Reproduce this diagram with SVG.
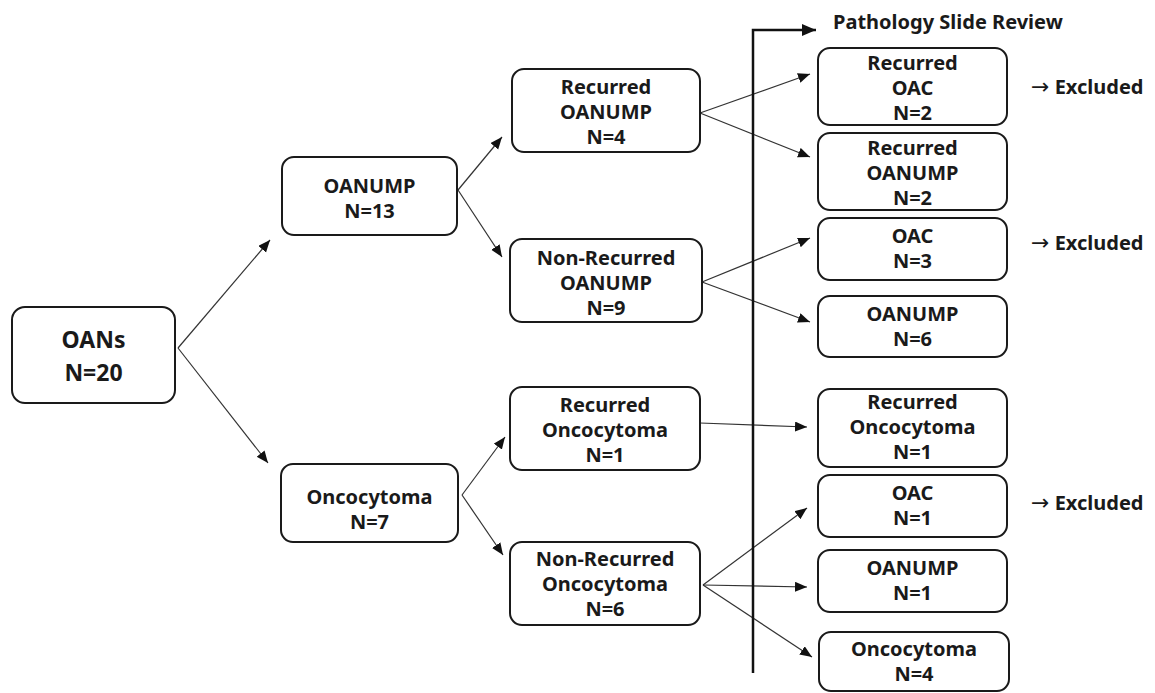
<svg xmlns="http://www.w3.org/2000/svg" width="1155" height="693" viewBox="0 0 1155 693">
<style>
.box{fill:#fff;stroke:#1a1a1a;stroke-width:2}
.t{font-family:"Noto Sans","Open Sans",sans-serif;font-weight:bold;font-size:20px;fill:#1a1a1a;text-anchor:middle}
.big{font-size:23px}
.ex{font-family:"Noto Sans","Open Sans",sans-serif;font-weight:bold;font-size:20px;fill:#1a1a1a}
.ar{font-family:"DejaVu Sans",sans-serif;font-weight:normal;font-size:22px}
.c{stroke:#333;stroke-width:1.2;fill:none;marker-end:url(#ah)}
</style>
<defs>
<marker id="ah" markerUnits="userSpaceOnUse" markerWidth="14" markerHeight="12" refX="12" refY="5" orient="auto">
<path d="M0,0 L12,5 L0,10 Z" fill="#111"/>
</marker>
<marker id="ah2" markerUnits="userSpaceOnUse" markerWidth="16" markerHeight="14" refX="14" refY="6" orient="auto">
<path d="M0,0 L14,6 L0,12 Z" fill="#111"/>
</marker>
</defs>
<rect width="1155" height="693" fill="#fff"/>
<g id="connectors">
<path class="c" d="M178,348 L270,240"/>
<path class="c" d="M178,348 L268,463"/>
<path class="c" d="M458,190 L502,137"/>
<path class="c" d="M458,190 L502,257"/>
<path class="c" d="M700,113 L810,74"/>
<path class="c" d="M700,113 L810,157"/>
<path class="c" d="M702,282 L810,238"/>
<path class="c" d="M702,282 L810,322"/>
<path class="c" d="M462,495 L505,437"/>
<path class="c" d="M462,495 L503,555"/>
<path class="c" d="M700,423 L807,427"/>
<path class="c" d="M703,585 L807,508"/>
<path class="c" d="M703,585 L807,587"/>
<path class="c" d="M703,585 L812,657"/>
<path d="M753,673 L753,30 L816,30" stroke="#111" stroke-width="2.5" fill="none" marker-end="url(#ah2)"/>
</g>
<text class="ex" x="833" y="29">Pathology Slide Review</text>
<g id="oans"><rect class="box" x="12" y="307" width="163" height="96" rx="13"/><text class="t big" x="93.5" y="348">OANs</text><text class="t big" x="93.5" y="381">N=20</text></g>
<g id="oanump13"><rect class="box" x="282" y="157" width="175" height="78" rx="12"/><text class="t" x="369.5" y="193">OANUMP</text><text class="t" x="369.5" y="218">N=13</text></g>
<g id="onco7"><rect class="box" x="281" y="464" width="177" height="78" rx="12"/><text class="t" x="369.5" y="504">Oncocytoma</text><text class="t" x="369.5" y="529">N=7</text></g>
<g id="rec-oanump"><rect class="box" x="512" y="69" width="188" height="83" rx="12"/><text class="t" x="606" y="94">Recurred</text><text class="t" x="606" y="119">OANUMP</text><text class="t" x="606" y="144">N=4</text></g>
<g id="nonrec-oanump"><rect class="box" x="510" y="239" width="192" height="83" rx="12"/><text class="t" x="606" y="265">Non-Recurred</text><text class="t" x="606" y="290">OANUMP</text><text class="t" x="606" y="315">N=9</text></g>
<g id="rec-onco"><rect class="box" x="510" y="387" width="190" height="83" rx="12"/><text class="t" x="605" y="412">Recurred</text><text class="t" x="605" y="437">Oncocytoma</text><text class="t" x="605" y="462">N=1</text></g>
<g id="nonrec-onco"><rect class="box" x="510" y="542" width="190" height="83" rx="12"/><text class="t" x="605" y="566">Non-Recurred</text><text class="t" x="605" y="591">Oncocytoma</text><text class="t" x="605" y="616">N=6</text></g>
<g id="r-rec-oac"><rect class="box" x="818" y="48" width="189" height="77" rx="12"/><text class="t" x="912.5" y="70">Recurred</text><text class="t" x="912.5" y="95">OAC</text><text class="t" x="912.5" y="120">N=2</text></g>
<g id="r-rec-oanump"><rect class="box" x="818" y="133" width="189" height="77" rx="12"/><text class="t" x="912.5" y="155">Recurred</text><text class="t" x="912.5" y="180">OANUMP</text><text class="t" x="912.5" y="205">N=2</text></g>
<g id="r-oac3"><rect class="box" x="818" y="218" width="189" height="62" rx="12"/><text class="t" x="912.5" y="243">OAC</text><text class="t" x="912.5" y="268">N=3</text></g>
<g id="r-oanump6"><rect class="box" x="818" y="296" width="189" height="61" rx="12"/><text class="t" x="912.5" y="321">OANUMP</text><text class="t" x="912.5" y="346">N=6</text></g>
<g id="r-rec-onco"><rect class="box" x="818" y="389" width="189" height="78" rx="12"/><text class="t" x="912.5" y="409">Recurred</text><text class="t" x="912.5" y="434">Oncocytoma</text><text class="t" x="912.5" y="459">N=1</text></g>
<g id="r-oac1"><rect class="box" x="818" y="475" width="189" height="62" rx="12"/><text class="t" x="912.5" y="500">OAC</text><text class="t" x="912.5" y="525">N=1</text></g>
<g id="r-oanump1"><rect class="box" x="818" y="550" width="189" height="62" rx="12"/><text class="t" x="912.5" y="575">OANUMP</text><text class="t" x="912.5" y="600">N=1</text></g>
<g id="r-onco4"><rect class="box" x="819" y="632" width="190" height="59" rx="12"/><text class="t" x="914" y="656">Oncocytoma</text><text class="t" x="914" y="681">N=4</text></g>
<g id="excluded">
<text class="ex" x="1031" y="94"><tspan class="ar">→</tspan> Excluded</text>
<text class="ex" x="1031" y="250"><tspan class="ar">→</tspan> Excluded</text>
<text class="ex" x="1031" y="510"><tspan class="ar">→</tspan> Excluded</text>
</g>
</svg>
